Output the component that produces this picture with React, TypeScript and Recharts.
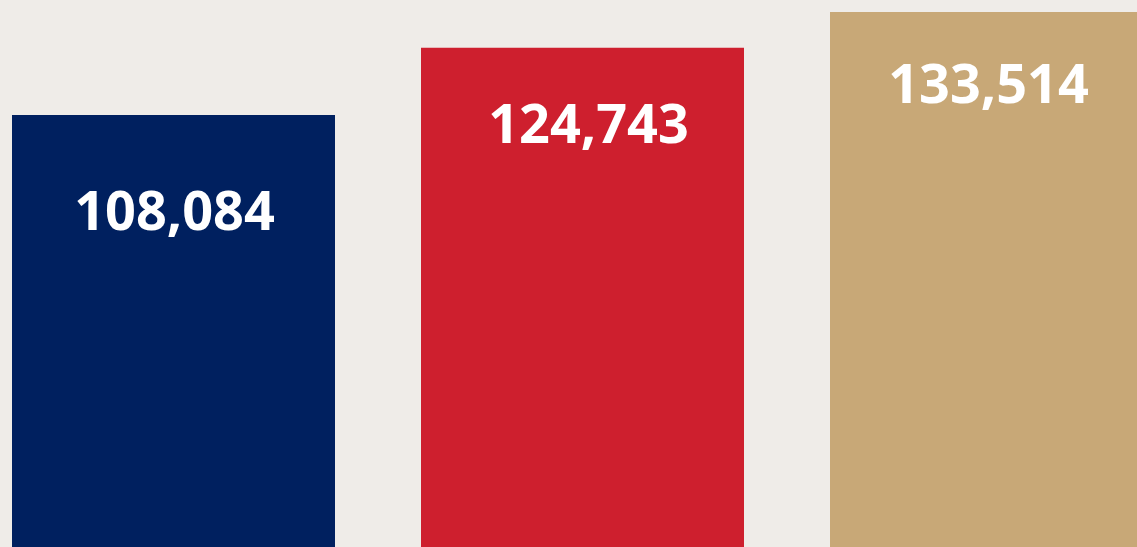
import React from "react";
import { BarChart, Bar, XAxis, YAxis, Cell, LabelList } from "recharts";

const categories = ["A", "B", "C"];
const values = [108084, 124743, 133514];
const colors = ["#00205F", "#CE1F2E", "#C8A877"];

const data = categories.map((c, i) => ({ name: c, value: values[i] }));

// label baseline offset below each bar top (styling)
const labelOffsets = [115, 95, 91];
const labelDx = [1, 6, -3];

const renderLabel = (props: any) => {
  const { x, y, width, value, index } = props;
  const fmt = Number(value).toLocaleString("en-US");
  return (
    <text
      x={x + width / 2 + labelDx[index]}
      y={y + labelOffsets[index]}
      textAnchor="middle"
      fill="#FFFFFF"
      fontFamily="'Open Sans', sans-serif"
      fontWeight={700}
      fontSize={54}
    >
      {fmt}
    </text>
  );
};

export default function App() {
  return (
    <div
      style={{
        position: "fixed",
        left: 0,
        top: 0,
        width: 1137,
        height: 547,
        overflow: "hidden",
        background: "#EFECE8",
      }}
    >
      <div style={{ position: "absolute", left: -31, top: 0 }}>
        <BarChart
          width={1227}
          height={553}
          data={data}
          margin={{ top: 0, right: 0, bottom: 0, left: 0 }}
          barCategoryGap={43}
        >
          <XAxis dataKey="name" hide />
          <YAxis hide domain={[0, 136500]} />
          <Bar dataKey="value" isAnimationActive={false}>
            {data.map((d, i) => (
              <Cell key={d.name} fill={colors[i]} />
            ))}
            <LabelList dataKey="value" content={renderLabel} />
          </Bar>
        </BarChart>
      </div>
    </div>
  );
}
